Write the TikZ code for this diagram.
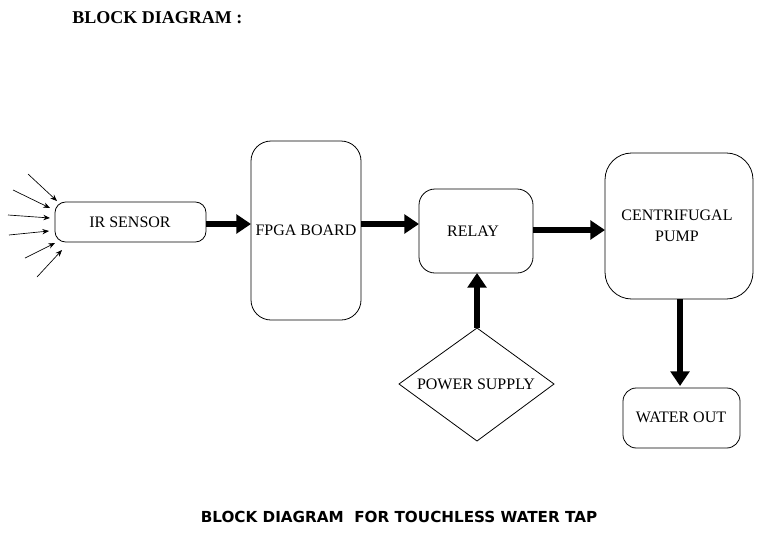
\documentclass[tikz,border=0pt]{standalone}
\usepackage{fontspec}
\setmainfont{Liberation Serif}
\newfontfamily\capfont{DejaVu Sans}
\usetikzlibrary{arrows.meta,shapes.geometric}
\begin{document}
\begin{tikzpicture}[x=0.75pt,y=-0.75pt,
  blk/.style={draw, line width=0.6pt, font=\fontsize{12}{14}\selectfont, align=center},
  big/.style={line width=5pt, -{Triangle[length=11pt,width=14pt]}},
  ray/.style={line width=0.5pt, -{Stealth[length=5pt,width=4pt]}}]
\useasboundingbox (0,0) rectangle (773,539);
\fill[white] (0,0) rectangle (773,539);
% title
\node[anchor=west, inner sep=0pt, font=\fontsize{13.5}{15}\selectfont\bfseries] (title) at (72,18) {BLOCK DIAGRAM :};
% blocks
\draw[blk, rounded corners=8] (55,202) rectangle (206,242);
\node[font=\fontsize{12}{14}\selectfont] (ir) at (130,222) {IR SENSOR};
\draw[blk, rounded corners=15] (251,141) rectangle (361,320);
\node[font=\fontsize{12}{14}\selectfont] (fpga) at (306,230) {FPGA BOARD};
\draw[blk, rounded corners=12] (419,189) rectangle (533,273);
\node[font=\fontsize{12}{14}\selectfont] (relay) at (473,231) {RELAY};
\draw[blk, rounded corners=20] (605,153) rectangle (753,299);
\node[font=\fontsize{12}{14}\selectfont, align=center] (pump) at (677,226) {CENTRIFUGAL\\[2pt]PUMP};
\draw[blk, rounded corners=10] (623,388) rectangle (740,448);
\node[font=\fontsize{12}{14}\selectfont] (water) at (681,417) {WATER OUT};
% power supply diamond
\draw[blk, line join=miter] (477,328) -- (554,384) -- (477,441) -- (399,384) -- cycle;
\node[font=\fontsize{12}{14}\selectfont] (ps) at (476,384) {POWER SUPPLY};
% coordinates for arrows
\coordinate (a1s) at (206,224); \coordinate (a1e) at (251,224);
\coordinate (a2s) at (361,224); \coordinate (a2e) at (419,224);
\coordinate (a3s) at (533,230); \coordinate (a3e) at (605,230);
\coordinate (a4s) at (680,299); \coordinate (a4e) at (680,386);
\coordinate (a5s) at (477,328); \coordinate (a5e) at (477,273);
\draw[big] (a1s) -- (a1e);
\draw[big] (a2s) -- (a2e);
\draw[big] (a3s) -- (a3e);
\draw[big] (a4s) -- (a4e);
\draw[big] (a5s) -- (a5e);
% rays
\coordinate (r1) at (28,174); \coordinate (t1) at (57,201);
\coordinate (r2) at (13,190); \coordinate (t2) at (50,208);
\coordinate (r3) at (8,215);  \coordinate (t3) at (50,218);
\coordinate (r4) at (9,235);  \coordinate (t4) at (49,231);
\coordinate (r5) at (25,258); \coordinate (t5) at (55,243);
\coordinate (r6) at (37,277); \coordinate (t6) at (62,250);
\foreach \i in {1,...,6} \draw[ray] (r\i) -- (t\i);
% caption
\node[font=\capfont\fontsize{11.4}{13}\selectfont\bfseries] (cap) at (399,517) {BLOCK DIAGRAM \ FOR TOUCHLESS WATER TAP};
\end{tikzpicture}
\end{document}
